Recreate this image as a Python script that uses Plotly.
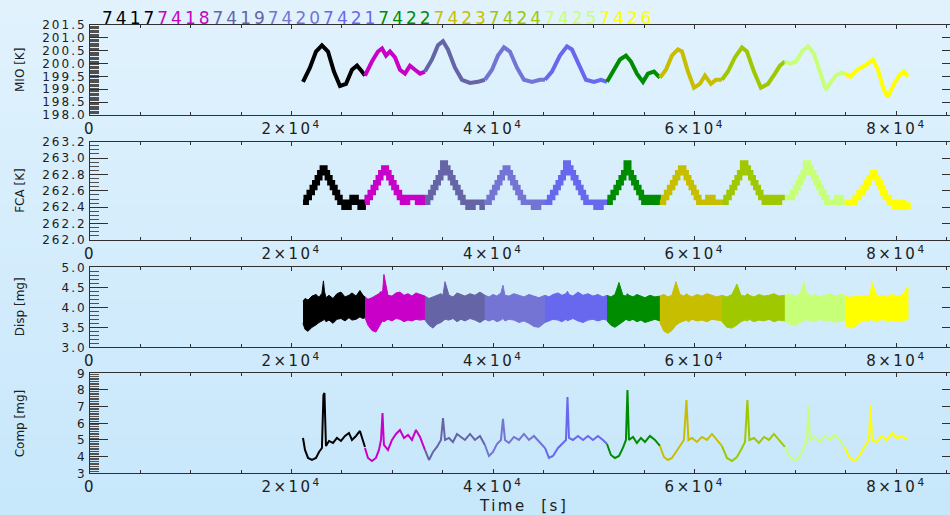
import plotly.graph_objects as go

# ---------------- data ----------------
RUNS = ['7417', '7418', '7419', '7420', '7421', '7422', '7423', '7424', '7425', '7426']
RUN_COLORS = ['#000000', '#c800c8', '#6464a6', '#7474d4', '#6868ee',
              '#008c00', '#c8be00', '#a0c800', '#c8ff78', '#ffff00']

# MIO [K]
MIO_T = [
    [21130, 21820, 22420, 23010, 23610, 24200, 24800, 25400, 25990, 26490, 26980, 27280],
    [27280, 27970, 28570, 28970, 29370, 29760, 30260, 30750, 31250, 31740, 32240, 32740, 33230],
    [33230, 33930, 34520, 35020, 35510, 36210, 36900, 37700, 38490, 39180],
    [39180, 39880, 40470, 41070, 41660, 42360, 43050, 43850, 44640, 45140],
    [45140, 45830, 46620, 47320, 47810, 48510, 49200, 50000, 50690, 51290],
    [51290, 51980, 52580, 53170, 53670, 54260, 54860, 55350, 55950, 56540],
    [56540, 57140, 57730, 58330, 58730, 59320, 59920, 60510, 61010, 61600, 62100, 62690],
    [62690, 63290, 63980, 64680, 65170, 65870, 66560, 67260, 67950, 68450, 68940],
    [68940, 69440, 70040, 70630, 71230, 71820, 72420, 73010, 73510, 74000, 74500, 74900],
    [74900, 75390, 75990, 76580, 77180, 77670, 78170, 78760, 79160, 79760, 80350, 80750, 81150],
]
MIO_V = [
    [199.29, 199.84, 200.47, 200.71, 200.47, 199.69, 199.13, 199.21, 199.76, 199.92, 199.69, 199.53],
    [199.53, 200.08, 200.47, 200.59, 200.31, 200.47, 200.24, 199.76, 199.61, 199.92, 199.76, 199.61, 199.69],
    [199.69, 200.16, 200.71, 200.87, 200.55, 199.84, 199.37, 199.25, 199.29, 199.37],
    [199.37, 199.76, 200.31, 200.63, 200.47, 199.84, 199.37, 199.29, 199.37, 199.37],
    [199.37, 199.69, 200.31, 200.67, 200.55, 199.92, 199.37, 199.29, 199.37, 199.29],
    [199.29, 199.76, 200.16, 200.31, 200.08, 199.61, 199.29, 199.61, 199.69, 199.45],
    [199.45, 199.76, 200.31, 200.55, 200.47, 199.69, 199.06, 199.21, 199.53, 199.21, 199.37, 199.37],
    [199.37, 199.69, 200.24, 200.63, 200.47, 199.69, 199.06, 199.21, 199.61, 199.92, 200.08],
    [200.08, 200.00, 200.08, 200.47, 200.67, 200.39, 199.69, 198.98, 199.29, 199.53, 199.65, 199.61],
    [199.61, 199.49, 199.72, 199.84, 200.00, 200.16, 199.76, 198.98, 198.70, 199.21, 199.57, 199.69, 199.49],
]

# FCA [K]
FCA_T = [
    [21130, 21450, 21750, 22050, 22300, 22550, 22800, 23050, 23300, 23550, 23800, 24050, 24300, 24550, 24800, 25200, 25700, 26000, 26400, 26800, 27100, 27280],
    [27280, 27500, 27800, 28100, 28350, 28600, 28850, 29150, 29400, 29650, 29900, 30150, 30400, 30700, 31000, 31500, 32000, 32500, 33000, 33230],
    [33230, 33500, 33800, 34050, 34300, 34550, 34800, 35000, 35250, 35500, 35750, 36000, 36250, 36500, 36750, 37000, 37500, 38000, 38500, 38900, 39180],
    [39180, 39600, 39900, 40150, 40400, 40650, 40900, 41200, 41450, 41700, 41950, 42200, 42450, 42700, 43000, 43500, 44000, 44500, 44900, 45140],
    [45140, 45600, 45900, 46200, 46450, 46700, 46950, 47200, 47450, 47700, 47950, 48200, 48450, 48700, 48950, 49200, 49700, 50200, 50700, 51000, 51290],
    [51290, 51600, 51900, 52200, 52450, 52700, 52950, 53200, 53450, 53700, 53950, 54200, 54450, 54700, 54950, 55300, 55700, 56100, 56400, 56540],
    [56540, 56900, 57200, 57500, 57800, 58050, 58300, 58600, 58900, 59150, 59400, 59650, 59900, 60150, 60400, 60800, 61300, 61800, 62300, 62690],
    [62690, 63100, 63400, 63700, 63950, 64200, 64450, 64750, 65050, 65300, 65550, 65800, 66050, 66300, 66550, 66900, 67400, 67900, 68400, 68940],
    [68940, 69400, 69700, 70000, 70250, 70500, 70750, 71000, 71300, 71550, 71800, 72050, 72300, 72550, 72800, 73100, 73600, 74100, 74500, 74900],
    [74900, 75400, 75900, 76300, 76700, 77000, 77300, 77600, 77900, 78150, 78400, 78650, 78900, 79300, 79800, 80300, 80700, 81150],
]
FCA_V = [
    [262.46, 262.52, 262.58, 262.64, 262.70, 262.76, 262.82, 262.88, 262.82, 262.76, 262.70, 262.64, 262.58, 262.52, 262.46, 262.40, 262.46, 262.52, 262.46, 262.40, 262.46, 262.46],
    [262.46, 262.52, 262.58, 262.64, 262.70, 262.76, 262.82, 262.88, 262.82, 262.76, 262.70, 262.64, 262.58, 262.52, 262.46, 262.52, 262.52, 262.46, 262.52, 262.52],
    [262.46, 262.52, 262.58, 262.64, 262.70, 262.76, 262.82, 262.94, 262.88, 262.82, 262.76, 262.70, 262.64, 262.58, 262.52, 262.46, 262.40, 262.46, 262.46, 262.40, 262.40],
    [262.46, 262.52, 262.58, 262.64, 262.70, 262.76, 262.82, 262.88, 262.82, 262.76, 262.70, 262.64, 262.58, 262.52, 262.46, 262.46, 262.40, 262.46, 262.46, 262.46],
    [262.46, 262.52, 262.58, 262.64, 262.70, 262.76, 262.82, 262.94, 262.88, 262.82, 262.76, 262.70, 262.64, 262.58, 262.52, 262.46, 262.46, 262.40, 262.46, 262.46, 262.46],
    [262.46, 262.52, 262.58, 262.64, 262.70, 262.76, 262.82, 262.94, 262.82, 262.76, 262.70, 262.64, 262.58, 262.52, 262.46, 262.52, 262.46, 262.52, 262.46, 262.46],
    [262.46, 262.52, 262.58, 262.64, 262.70, 262.76, 262.82, 262.88, 262.82, 262.76, 262.70, 262.64, 262.58, 262.52, 262.46, 262.46, 262.52, 262.46, 262.46, 262.46],
    [262.46, 262.52, 262.58, 262.64, 262.70, 262.76, 262.82, 262.94, 262.88, 262.82, 262.76, 262.70, 262.64, 262.58, 262.52, 262.46, 262.52, 262.46, 262.52, 262.52],
    [262.52, 262.52, 262.58, 262.64, 262.70, 262.76, 262.82, 262.94, 262.88, 262.82, 262.76, 262.70, 262.64, 262.58, 262.52, 262.46, 262.46, 262.52, 262.46, 262.46],
    [262.46, 262.46, 262.52, 262.58, 262.64, 262.70, 262.76, 262.82, 262.76, 262.70, 262.64, 262.58, 262.52, 262.46, 262.40, 262.46, 262.40, 262.46],
]

# shared time grid for Disp / Comp
RUN_T = [
    [21130, 21330, 21630, 22020, 22420, 22720, 23010, 23160, 23260, 23410, 23710, 24110, 24500, 24900, 25300, 25690, 25990, 26390, 26780, 27080, 27280],
    [27280, 27580, 27970, 28370, 28670, 28870, 29020, 29160, 29560, 29960, 30360, 30750, 31150, 31550, 31940, 32340, 32740, 33230],
    [33230, 33630, 34030, 34420, 34820, 35020, 35220, 35610, 36010, 36410, 36800, 37200, 37700, 38190, 38690, 39180],
    [39180, 39580, 39980, 40370, 40770, 40970, 41170, 41560, 42060, 42560, 43050, 43550, 44040, 44540, 45140],
    [45140, 45530, 45930, 46430, 46820, 47220, 47370, 47520, 47910, 48410, 48910, 49400, 49900, 50390, 50890, 51290],
    [51290, 51680, 52080, 52480, 52870, 53170, 53320, 53470, 53870, 54260, 54660, 55060, 55550, 56050, 56540],
    [56540, 56940, 57340, 57730, 58130, 58530, 58920, 59170, 59370, 59720, 60210, 60710, 61210, 61700, 62200, 62690],
    [62690, 63190, 63690, 64180, 64580, 64980, 65220, 65420, 65870, 66360, 66860, 67360, 67850, 68350, 68940],
    [68940, 69440, 69940, 70430, 70830, 71130, 71280, 71420, 71920, 72420, 72910, 73410, 73900, 74400, 74900],
    [74900, 75390, 75890, 76380, 76880, 77280, 77430, 77580, 78070, 78570, 79060, 79560, 80050, 80550, 81150],
]

# Disp [mg] : upper / lower envelope of the noisy band
DISP_HI = [
    [4.15, 4.22, 4.18, 4.28, 4.32, 4.25, 4.35, 4.66, 4.40, 4.24, 4.30, 4.22, 4.34, 4.38, 4.26, 4.30, 4.36, 4.28, 4.42, 4.30, 4.26],
    [4.26, 4.20, 4.24, 4.30, 4.34, 4.40, 4.35, 4.82, 4.30, 4.28, 4.36, 4.38, 4.30, 4.34, 4.28, 4.36, 4.32, 4.28],
    [4.28, 4.22, 4.26, 4.30, 4.34, 4.30, 4.64, 4.30, 4.26, 4.36, 4.32, 4.28, 4.34, 4.30, 4.38, 4.30],
    [4.30, 4.26, 4.32, 4.28, 4.36, 4.55, 4.30, 4.28, 4.34, 4.30, 4.26, 4.32, 4.28, 4.24, 4.30],
    [4.30, 4.26, 4.32, 4.36, 4.30, 4.34, 4.40, 4.32, 4.28, 4.38, 4.30, 4.34, 4.28, 4.32, 4.26, 4.30],
    [4.30, 4.26, 4.32, 4.62, 4.30, 4.28, 4.34, 4.30, 4.26, 4.32, 4.28, 4.24, 4.30, 4.26, 4.28],
    [4.28, 4.32, 4.26, 4.30, 4.64, 4.32, 4.28, 4.34, 4.30, 4.26, 4.32, 4.28, 4.34, 4.30, 4.26, 4.30],
    [4.30, 4.26, 4.32, 4.58, 4.30, 4.28, 4.34, 4.30, 4.26, 4.32, 4.28, 4.30, 4.34, 4.28, 4.30],
    [4.30, 4.34, 4.28, 4.32, 4.64, 4.30, 4.34, 4.28, 4.32, 4.26, 4.30, 4.34, 4.28, 4.32, 4.30],
    [4.30, 4.24, 4.28, 4.26, 4.30, 4.28, 4.36, 4.63, 4.28, 4.30, 4.26, 4.32, 4.28, 4.30, 4.52],
]
DISP_LO = [
    [3.60, 3.45, 3.40, 3.50, 3.56, 3.62, 3.66, 3.68, 3.70, 3.64, 3.68, 3.60, 3.70, 3.72, 3.66, 3.74, 3.68, 3.70, 3.76, 3.72, 3.74],
    [3.74, 3.55, 3.42, 3.38, 3.50, 3.60, 3.66, 3.64, 3.70, 3.66, 3.72, 3.70, 3.64, 3.68, 3.66, 3.70, 3.68, 3.70],
    [3.68, 3.55, 3.48, 3.58, 3.62, 3.66, 3.70, 3.68, 3.72, 3.64, 3.70, 3.66, 3.72, 3.68, 3.62, 3.70],
    [3.70, 3.66, 3.70, 3.64, 3.68, 3.72, 3.66, 3.70, 3.68, 3.62, 3.66, 3.60, 3.52, 3.50, 3.62],
    [3.62, 3.66, 3.70, 3.68, 3.64, 3.70, 3.66, 3.68, 3.72, 3.66, 3.62, 3.68, 3.70, 3.66, 3.70, 3.68],
    [3.66, 3.55, 3.50, 3.58, 3.64, 3.70, 3.68, 3.66, 3.70, 3.64, 3.68, 3.62, 3.66, 3.70, 3.66],
    [3.62, 3.40, 3.35, 3.42, 3.55, 3.62, 3.66, 3.68, 3.64, 3.70, 3.66, 3.68, 3.64, 3.70, 3.68, 3.66],
    [3.64, 3.50, 3.48, 3.56, 3.64, 3.68, 3.66, 3.70, 3.64, 3.68, 3.66, 3.70, 3.64, 3.68, 3.66],
    [3.66, 3.58, 3.54, 3.60, 3.66, 3.70, 3.66, 3.68, 3.64, 3.70, 3.66, 3.68, 3.62, 3.66, 3.68],
    [3.55, 3.48, 3.52, 3.62, 3.68, 3.66, 3.70, 3.68, 3.64, 3.70, 3.66, 3.68, 3.64, 3.66, 3.70],
]

# Comp [mg]
COMP_V = [
    [5.12, 4.40, 3.92, 3.80, 3.92, 4.28, 4.52, 7.70, 7.82, 4.64, 4.94, 4.82, 5.12, 4.94, 5.24, 5.42, 5.00, 5.24, 5.54, 5.00, 4.58],
    [4.52, 3.92, 3.74, 3.92, 4.40, 5.00, 6.62, 4.70, 4.40, 5.00, 5.36, 5.60, 5.12, 5.30, 5.00, 5.60, 5.18, 4.40],
    [4.40, 3.80, 4.28, 4.58, 5.00, 6.32, 5.00, 5.12, 4.88, 5.36, 5.18, 5.00, 5.36, 5.00, 5.24, 4.70],
    [4.70, 4.04, 4.28, 4.76, 5.00, 6.26, 5.00, 4.82, 5.18, 5.00, 5.36, 5.00, 5.24, 4.94, 4.52],
    [4.52, 3.92, 4.04, 4.52, 4.76, 5.00, 7.58, 5.12, 5.00, 5.24, 5.00, 5.24, 5.00, 5.24, 5.00, 4.76],
    [4.76, 4.10, 3.92, 4.04, 4.52, 5.00, 8.00, 5.00, 5.18, 4.82, 5.12, 4.88, 5.24, 5.00, 4.64],
    [4.64, 3.98, 3.80, 3.92, 4.28, 4.64, 5.00, 7.40, 5.00, 5.12, 4.88, 5.18, 5.00, 5.36, 5.00, 4.64],
    [4.64, 3.92, 3.74, 3.98, 4.40, 4.88, 7.40, 5.00, 5.12, 4.82, 5.18, 5.00, 5.36, 5.00, 4.58],
    [4.58, 3.98, 3.74, 4.04, 4.52, 5.00, 7.10, 5.00, 5.18, 4.88, 5.24, 5.00, 5.30, 5.00, 4.52],
    [4.52, 3.92, 3.74, 4.10, 4.64, 5.00, 7.10, 5.00, 4.88, 5.24, 5.00, 5.42, 5.12, 5.24, 5.00],
]

X_TICKS = [0, 20000, 40000, 60000, 80000]
X_TICK_LABELS = ['0', '2×10<sup>4</sup>', '4×10<sup>4</sup>', '6×10<sup>4</sup>', '8×10<sup>4</sup>']

PANEL_TITLES = ['MIO [K]', 'FCA [K]', 'Disp [mg]', 'Comp [mg]']
Y_RANGES = [[198.0, 201.5], [262.0, 263.2], [3.0, 5.0], [3.0, 9.0]]
Y_TICKS = [
    [198.0, 198.5, 199.0, 199.5, 200.0, 200.5, 201.0, 201.5],
    [262.0, 262.2, 262.4, 262.6, 262.8, 263.0, 263.2],
    [3.0, 3.5, 4.0, 4.5, 5.0],
    [3, 4, 5, 6, 7, 8, 9],
]
Y_TICK_LABELS = [
    ['198.0', '198.5', '199.0', '199.5', '200.0', '200.5', '201.0', '201.5'],
    ['262.0', '262.2', '262.4', '262.6', '262.8', '263.0', '263.2'],
    ['3.0', '3.5', '4.0', '4.5', '5.0'],
    ['3', '4', '5', '6', '7', '8', '9'],
]
Y_MINOR = [0.05, 0.05, 0.1, 0.1]

# ---------------- layout geometry ----------------
W, H = 950, 515
X_LEFT = 90
X_RANGE = [0, 85320]
PANEL_PX = [(25, 115), (141.7, 240), (267.3, 347.3), (373.3, 473.3)]

def ydom(top, bot):
    return [1 - bot / H, 1 - top / H]

def spaced(s, px):
    return '<span style="letter-spacing:%spx">%s</span>' % (px, s)

AX = '#303030'
TXT = '#202020'

fig = go.Figure()

# background gradient
top_c = (225, 242, 253)
bot_c = (199, 231, 251)
N = 60
shapes = []
for i in range(N):
    f = i / (N - 1)
    c = tuple(int(round(top_c[k] + (bot_c[k] - top_c[k]) * f)) for k in range(3))
    shapes.append(dict(type='rect', xref='paper', yref='paper', x0=0, x1=1,
                       y0=1 - (i + 1) / N, y1=1 - i / N + 0.002,
                       fillcolor='rgb(%d,%d,%d)' % c, line=dict(width=0), layer='below'))

# traces
for i in range(len(RUNS)):
    col = RUN_COLORS[i]
    fig.add_trace(go.Scatter(x=MIO_T[i], y=MIO_V[i], mode='lines', xaxis='x', yaxis='y',
                             line=dict(color=col, width=4), showlegend=False, hoverinfo='skip'))
    fig.add_trace(go.Scatter(x=FCA_T[i], y=FCA_V[i], mode='lines', xaxis='x2', yaxis='y2',
                             line=dict(color=col, width=5.5, shape='hv'), showlegend=False, hoverinfo='skip'))
    fig.add_trace(go.Scatter(x=RUN_T[i] + RUN_T[i][::-1], y=DISP_HI[i] + DISP_LO[i][::-1],
                             mode='lines', fill='toself', fillcolor=col, xaxis='x3', yaxis='y3',
                             line=dict(color=col, width=1), showlegend=False, hoverinfo='skip'))
    fig.add_trace(go.Scatter(x=RUN_T[i], y=COMP_V[i], mode='lines', xaxis='x4', yaxis='y4',
                             line=dict(color=col, width=2), showlegend=False, hoverinfo='skip'))

layout = dict(width=W, height=H, margin=dict(l=0, r=0, t=0, b=0, autoexpand=False),
              paper_bgcolor='rgb(212,236,252)', plot_bgcolor='rgba(0,0,0,0)',
              shapes=shapes, showlegend=False)

annotations = []
for p in range(4):
    top, bot = PANEL_PX[p]
    sfx = '' if p == 0 else str(p + 1)
    layout['xaxis' + sfx] = dict(
        domain=[X_LEFT / W, 1.0], range=X_RANGE, anchor='y' + sfx, automargin=False,
        showline=True, linecolor=AX, linewidth=1, mirror='ticks',
        ticks='inside', ticklen=4, tickcolor=AX, tickvals=X_TICKS,
        ticktext=[spaced(t, 2.5) for t in X_TICK_LABELS],
        minor=dict(ticks='inside', ticklen=3, dtick=5000, tick0=0, tickcolor=AX),
        tickfont=dict(family='DejaVu Sans', size=15, color=TXT),
        showgrid=False, zeroline=False, fixedrange=True)
    layout['yaxis' + sfx] = dict(
        domain=ydom(top, bot), range=Y_RANGES[p], anchor='x' + sfx, automargin=False,
        showline=True, linecolor=AX, linewidth=1, mirror=False,
        ticks='inside', ticklen=18, tickcolor=AX, tickvals=Y_TICKS[p],
        ticktext=[spaced(t, 2) for t in Y_TICK_LABELS[p]],
        minor=dict(ticks='inside', ticklen=9, dtick=Y_MINOR[p], tick0=Y_RANGES[p][0], tickcolor='#505050'),
        tickfont=dict(family='DejaVu Sans', size=12, color=TXT),
        showgrid=False, zeroline=False, fixedrange=True)
    # right-hand ticks
    layout['yaxis' + str(p + 5)] = dict(
        overlaying='y' + sfx, side='right', anchor='x' + sfx, range=Y_RANGES[p], automargin=False,
        tickvals=Y_TICKS[p], showticklabels=False, ticks='inside', ticklen=8, tickcolor=AX,
        showline=False, showgrid=False, zeroline=False, fixedrange=True)
    annotations.append(dict(text=PANEL_TITLES[p], xref='paper', yref='paper',
                            x=20 / W, y=1 - (top + bot) / 2 / H, textangle=-90,
                            showarrow=False, xanchor='center', yanchor='middle',
                            font=dict(family='DejaVu Sans', size=12, color=TXT)))

# run labels on top
run_text = ''.join('<span style="color:%s;letter-spacing:3px">%s</span>' % (c, r)
                   for r, c in zip(RUNS, RUN_COLORS))
annotations.append(dict(text=run_text, xref='paper', yref='paper', x=100 / W, y=1 - 18 / H,
                        xanchor='left', yanchor='middle', showarrow=False,
                        font=dict(family='DejaVu Sans', size=17, color='#000000')))
annotations.append(dict(text=spaced('Time  [s]', 2.5), xref='paper', yref='paper', x=523 / W, y=1 - 506 / H,
                        xanchor='center', yanchor='middle', showarrow=False,
                        font=dict(family='DejaVu Sans', size=15, color=TXT)))
layout['annotations'] = annotations
fig.update_layout(**layout)

# tiny invisible traces to activate right-side axes
for p in range(4):
    sfx = '' if p == 0 else str(p + 1)
    fig.add_trace(go.Scatter(x=[None], y=[None], xaxis='x' + sfx, yaxis='y' + str(p + 5),
                             mode='lines', showlegend=False, hoverinfo='skip'))

fig.write_html('out.html', config={'displayModeBar': False},
               post_script="document.body.style.margin='0';document.body.style.overflow='hidden';")
